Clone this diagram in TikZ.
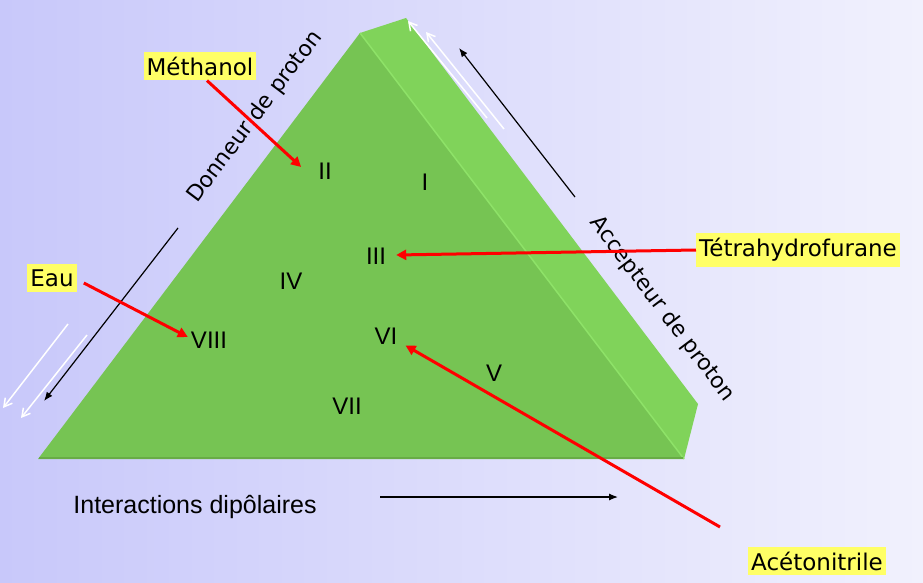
\documentclass[tikz,border=0pt]{standalone}
\usepackage{fontspec}
\setmainfont{Liberation Sans}
\newfontfamily\comicfont{DejaVu Sans}
\usetikzlibrary{arrows.meta,positioning,calc}
\definecolor{bgleft}{RGB}{200,200,250}
\definecolor{bgright}{RGB}{241,241,253}
\definecolor{frontgreen}{RGB}{118,196,83}
\definecolor{sidegreen}{RGB}{128,211,90}
\definecolor{edgegreen}{RGB}{142,226,104}
\definecolor{basegreen}{RGB}{104,172,70}
\definecolor{lblyellow}{RGB}{255,255,102}
\tikzset{
  namebox/.style={rectangle, fill=lblyellow, inner xsep=3pt, inner ysep=5pt, font=\comicfont\fontsize{23}{27}\selectfont},
  zone/.style={inner sep=1pt, font=\fontsize{24}{28}\selectfont},
  axislbl/.style={inner sep=1pt, font=\comicfont\fontsize{22}{26}\selectfont},
  redarrow/.style={-{Triangle[length=10pt,width=10pt]}, line width=3pt, red},
  parrow/.style={-{Latex[length=9pt,width=7pt]}, line width=1.2pt, black},
  warrow/.style={-{Straight Barb[length=8pt,width=9pt]}, line width=1.5pt, white}
}

\begin{document}
\begin{tikzpicture}[x=1pt,y=-1pt]
  \useasboundingbox (0,0) rectangle (923,583);
  \shade[left color=bgleft, right color=bgright] (0,0) rectangle (923,583);

  \fill[sidegreen] (360,33) -- (406,18) -- (698,404) -- (684,459) -- cycle;
  \fill[frontgreen] (360,33) -- (684,459) -- (38,459) -- cycle;
  \draw[edgegreen, line width=1.5pt] (360,33) -- (684,459);
  \draw[basegreen, line width=2.5pt] (39,458) -- (683,458);

  \node[zone] (n1) at (425,182) {I};
  \node[zone] (n2) at (325,171) {II};
  \node[zone] (n3) at (376,256) {III};
  \node[zone] (n4) at (291,281) {IV};
  \node[zone] (n5) at (494,373) {V};
  \node[zone] (n6) at (386,336) {VI};
  \node[zone] (n7) at (347,406) {VII};
  \node[zone] (n8) at (209,340) {VIII};

  \node[namebox] (meth) at (200,66) {Méthanol};
  \node[namebox] (eau) at (52,278) {Eau};
  \node[namebox] (thf) at (798,250) {Tétrahydrofurane};
  \node[namebox] (acn) at (817,561) {Acétonitrile};
  \coordinate (acntail) at (720,527);

  \node[axislbl, rotate=53] (donneur) at (255,117) {Donneur de proton};
  \node[axislbl, rotate=-53] (accepteur) at (662,309) {Accepteur de proton};
  \node[inner sep=1pt, font=\fontsize{25}{28}\selectfont] (dipol) at (195,507) {Interactions dipôlaires};

  \coordinate (ldtail) at (178,228);
  \coordinate (ldtip) at (44,401);
  \coordinate (ratail) at (575,197);
  \coordinate (ratip) at (459,48);
  \coordinate (bdtail) at (380,497);
  \coordinate (bdtip) at (618,497);
  \draw[parrow] (ldtail) -- (ldtip);
  \draw[parrow] (ratail) -- (ratip);
  \draw[parrow] (bdtail) -- (bdtip);

  \draw[warrow] (487,118) -- (408,21);
  \draw[warrow] (504,129) -- (426,32);
  \draw[warrow] (68,324) -- (3,408);
  \draw[warrow] (87,335) -- (21,418);

  \draw[redarrow] ([xshift=7pt]meth.south) -- ([xshift=-16pt,yshift=4pt]n2.west);
  \draw[redarrow] ([xshift=7pt,yshift=-5pt]eau.east) -- ([xshift=-2pt,yshift=3pt]n8.west);
  \draw[redarrow] (thf.west) -- ([xshift=9pt,yshift=1pt]n3.east);
  \draw[redarrow] (acntail) -- ([xshift=7pt]n6.south east);
\end{tikzpicture}
\end{document}
